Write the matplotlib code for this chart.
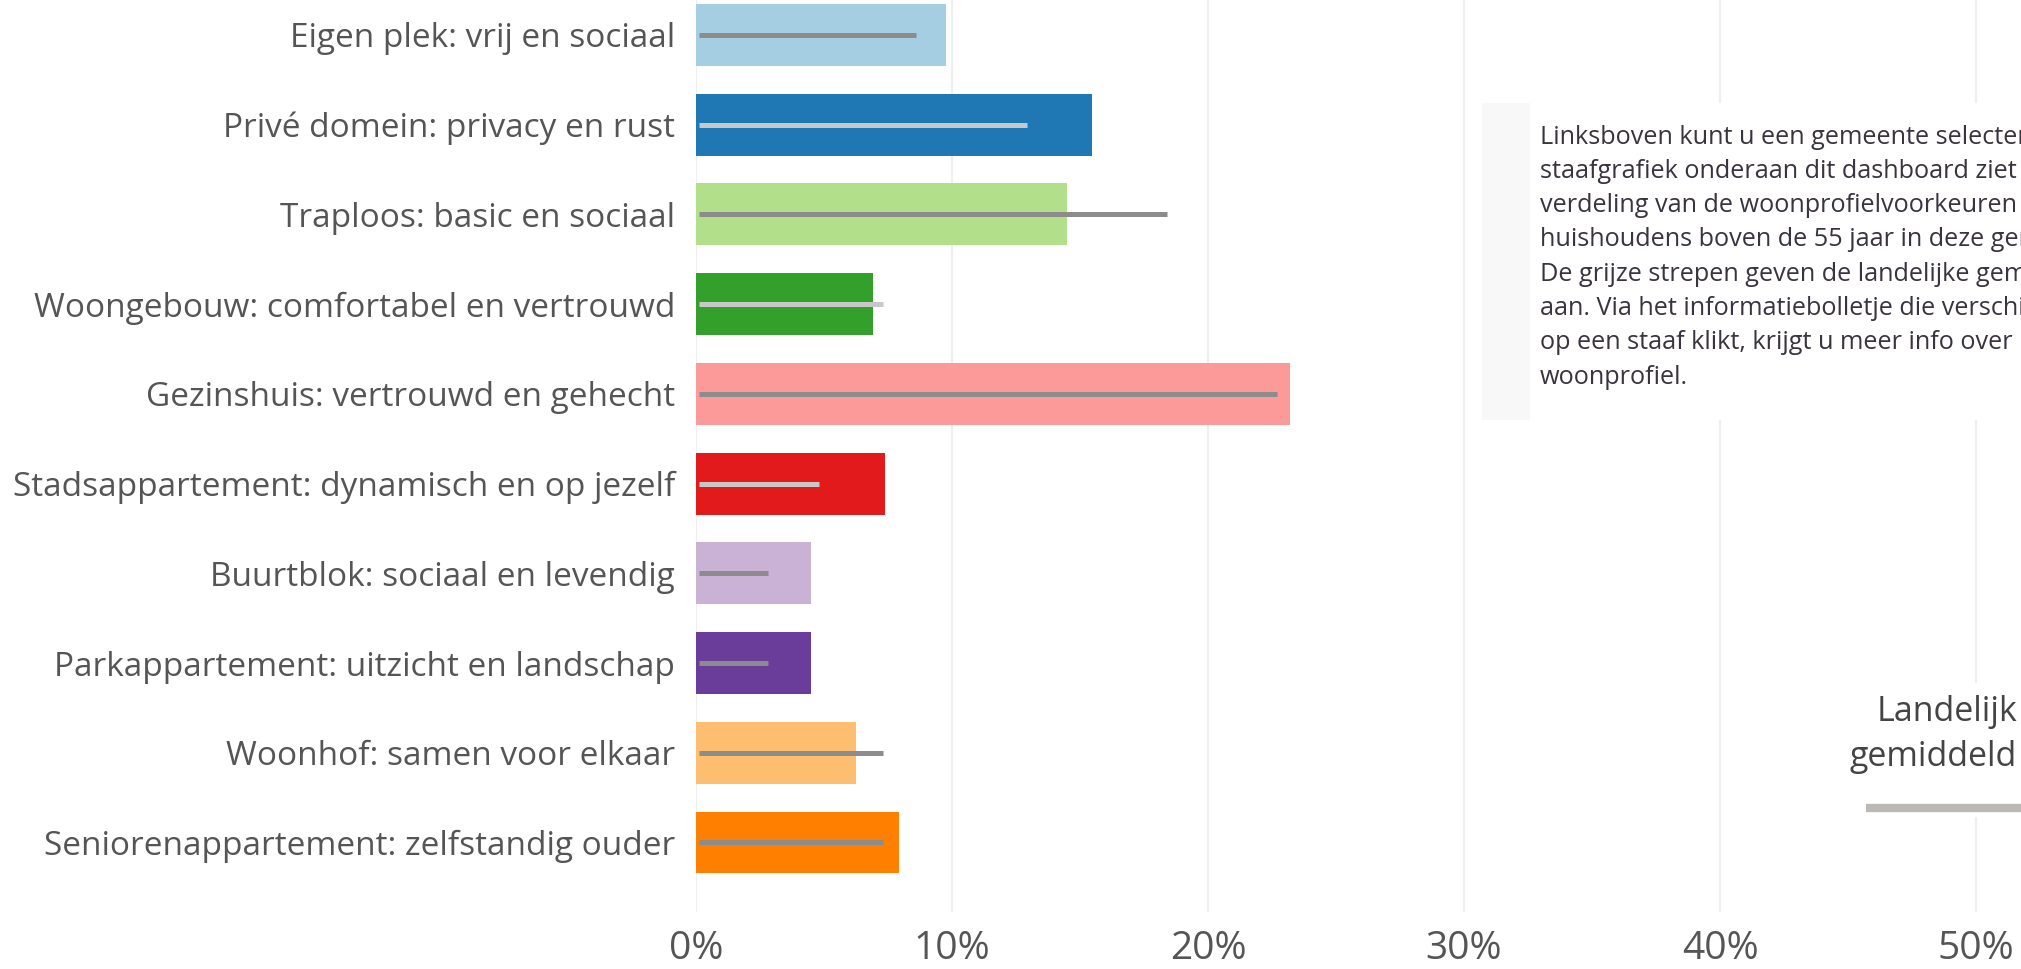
import matplotlib
matplotlib.use("Agg")
import matplotlib.pyplot as plt
from matplotlib.patches import Rectangle

W, H = 2021, 969

categories = [
    "Eigen plek: vrij en sociaal",
    "Privé domein: privacy en rust",
    "Traploos: basic en sociaal",
    "Woongebouw: comfortabel en vertrouwd",
    "Gezinshuis: vertrouwd en gehecht",
    "Stadsappartement: dynamisch en op jezelf",
    "Buurtblok: sociaal en levendig",
    "Parkappartement: uitzicht en landschap",
    "Woonhof: samen voor elkaar",
    "Seniorenappartement: zelfstandig ouder",
]
gemeente = [9.75, 15.46, 14.49, 6.92, 23.21, 7.38, 4.48, 4.49, 6.24, 7.94]
landelijk = [8.59, 12.94, 18.38, 7.31, 22.68, 4.80, 2.80, 2.80, 7.30, 7.32]
xticks = [0, 10, 20, 30, 40, 50]
xticklabels = ["0%", "10%", "20%", "30%", "40%", "50%"]

bar_colors = ["#a6cee3", "#1f78b4", "#b2df8a", "#33a02c", "#fb9a99",
              "#e31a1c", "#cab2d6", "#6a3d9a", "#fdbf6f", "#ff7f00"]
line_colors = ["#8c8c8c", "#c8c8c8", "#8c8c8c", "#c8c8c8", "#8c8c8c",
               "#c8c8c8", "#8c8c8c", "#8c8c8c", "#8c8c8c", "#8c8c8c"]

info_lines = [
    "Linksboven kunt u een gemeente selecteren. In de",
    "staafgrafiek onderaan dit dashboard ziet u de",
    "verdeling van de woonprofielvoorkeuren van",
    "huishoudens boven de 55 jaar in deze gemeente.",
    "De grijze strepen geven de landelijke gemiddelden",
    "aan. Via het informatiebolletje die verschijnt als u",
    "op een staaf klikt, krijgt u meer info over het",
    "woonprofiel.",
]

plt.rcParams['font.family'] = ['Open Sans', 'DejaVu Sans']

fig = plt.figure(figsize=(W / 100, H / 100), dpi=100)
fig.patch.set_facecolor("white")

ax_left, ax_right_px, ax_top_px, ax_bot_px = 696, W, 0, 912
ax = fig.add_axes([ax_left / W, (H - ax_bot_px) / H,
                   (ax_right_px - ax_left) / W, (ax_bot_px - ax_top_px) / H])

ypos = list(range(len(categories)))
ax.barh(ypos, gemeente, height=0.69, color=bar_colors, zorder=2)
ax.hlines(ypos, 0.1, landelijk, colors=line_colors, linewidth=3.6, zorder=3)

ax.set_xlim(0, (ax_right_px - ax_left) / 25.6)
ax.set_ylim(9.775, -0.39)

ax.set_yticks(ypos)
ax.set_yticklabels(categories, fontsize=24, color="#555555")
ax.set_xticks(xticks)
ax.set_xticklabels(xticklabels, fontsize=28, color="#555555")
ax.tick_params(axis="y", length=0, pad=15)
ax.tick_params(axis="x", length=0, pad=13)
for s in ax.spines.values():
    s.set_visible(False)
ax.grid(axis="x", color="#efefef", linewidth=1.6, zorder=0)
ax.set_axisbelow(True)


def px_rect(x0, y0, x1, y1, color):
    fig.add_artist(Rectangle((x0 / W, (H - y1) / H), (x1 - x0) / W, (y1 - y0) / H,
                             transform=fig.transFigure, facecolor=color,
                             edgecolor="none", zorder=1))


# info text box (clipped by the right edge, as in the reference)
px_rect(1482, 103, W, 420, "white")
px_rect(1482, 103, 1530, 420, "#f8f8f8")
for i, line in enumerate(info_lines):
    fig.text(1540 / W, 1 - (137 + i * 34.3) / H, line, fontsize=18.2,
             color="#3a3340", ha="left", va="center", zorder=2)

# legend
px_rect(1830, 683, W, 817, "white")
fig.text(2017 / W, 1 - 712 / H, "Landelijk", fontsize=24.5, color="#444444",
         ha="right", va="center", zorder=2)
fig.text(2017 / W, 1 - 757 / H, "gemiddeld", fontsize=24.5, color="#444444",
         ha="right", va="center", zorder=2)
fig.add_artist(plt.Line2D([1866 / W, 1.0], [1 - 808 / H, 1 - 808 / H],
                          transform=fig.transFigure, color="#bdb9b4",
                          linewidth=6, solid_capstyle="butt", zorder=2))

fig.savefig("out.png", dpi=100, facecolor="white")
